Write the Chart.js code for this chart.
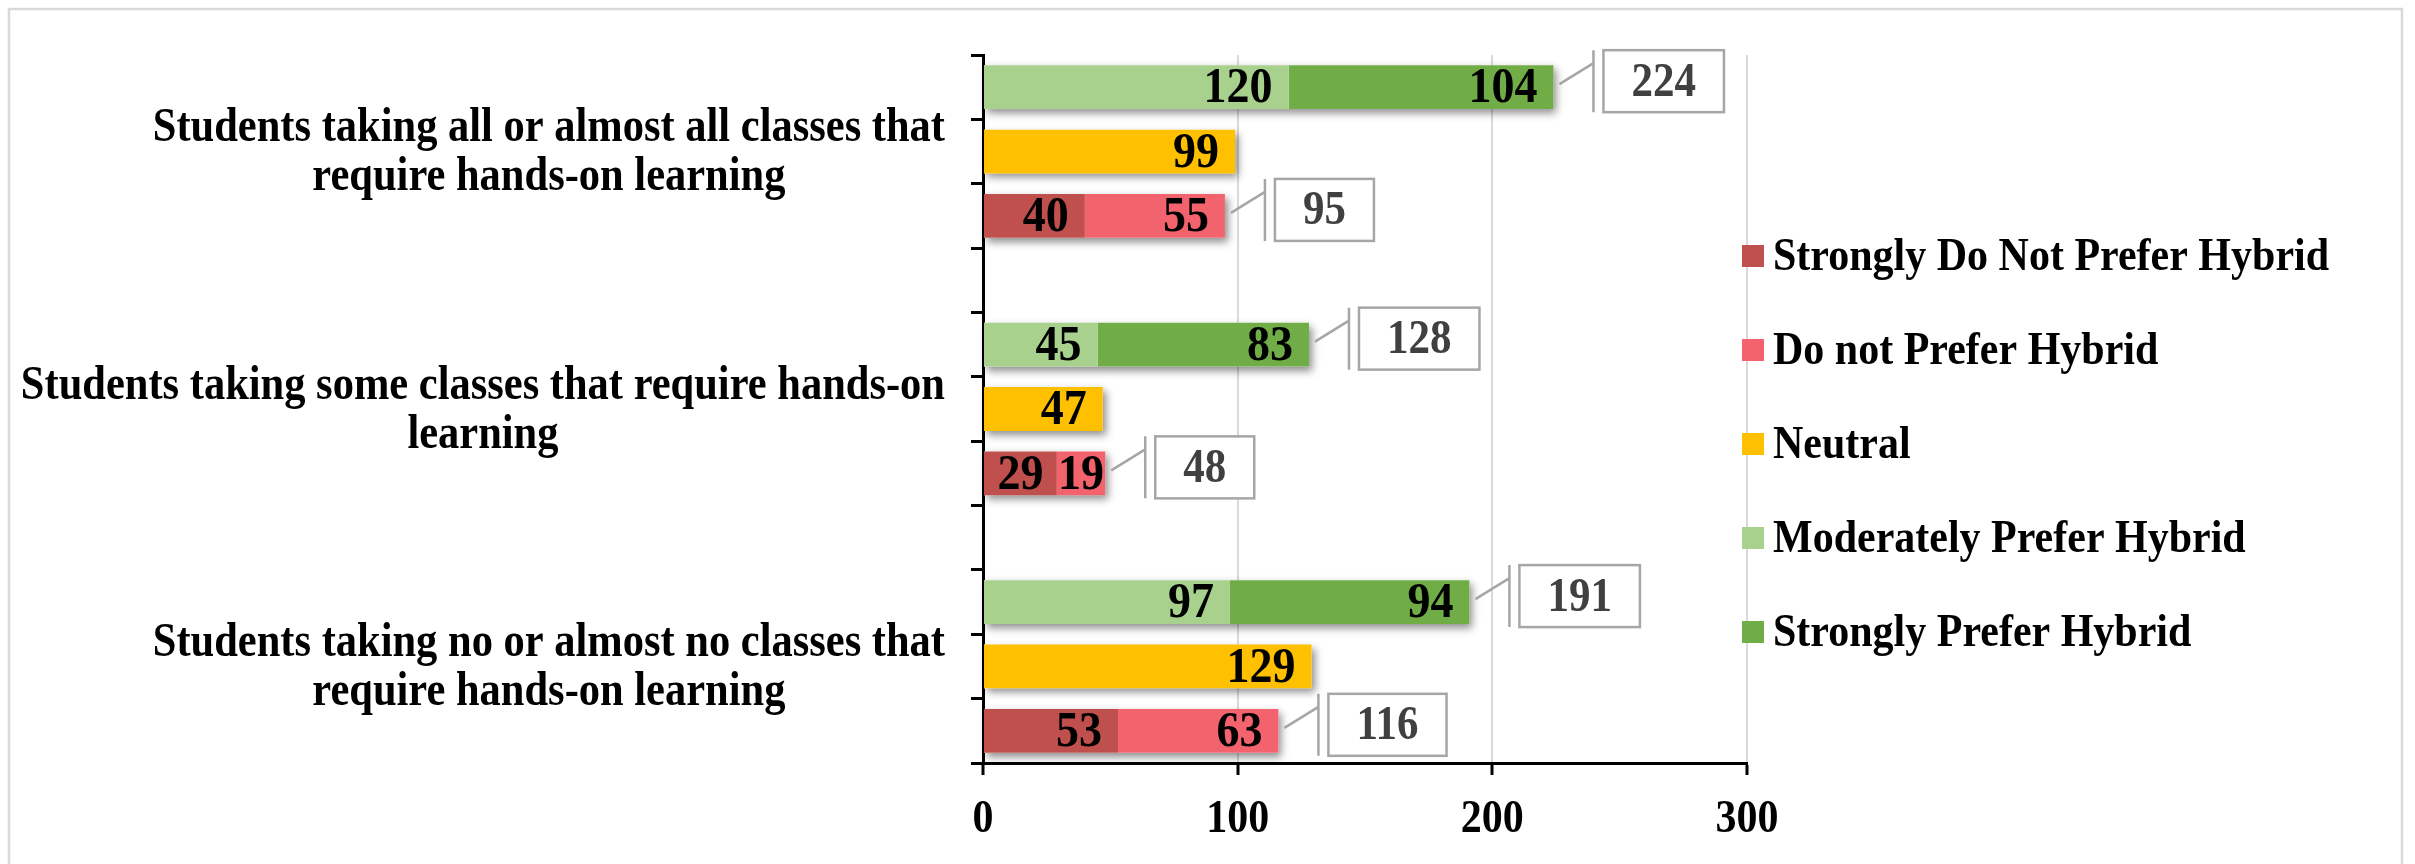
<!DOCTYPE html>
<html lang="en">
  <head>
    <meta charset="utf-8">
    <title>Hybrid preference by hands-on class load</title>
    <script src="https://cdn.jsdelivr.net/npm/chart.js"></script>
    <style>
      html, body {
        margin: 0;
        padding: 0;
        background: #fff;
      }
      #wrap {
        position: relative;
        width: 2415px;
        height: 864px;
      }
    </style>
  </head>
  <body>
    <div id="wrap"><canvas id="chart"></canvas></div>

    <script>
      // Groups, top to bottom
      const groups = [
        ["Students taking all or almost all classes that", "require hands-on learning"],
        ["Students taking some classes that require hands-on", "learning"],
        ["Students taking no or almost no classes that", "require hands-on learning"],
      ];
      const seriesNames = [
        "Strongly Do Not Prefer Hybrid",
        "Do not Prefer Hybrid",
        "Neutral",
        "Moderately Prefer Hybrid",
        "Strongly Prefer Hybrid",
      ];
      const stronglyNot = [40, 29, 53];
      const notPrefer = [55, 19, 63];
      const neutral = [99, 47, 129];
      const moderately = [120, 45, 97];
      const stronglyPrefer = [104, 83, 94];
      const xTicks = [0, 100, 200, 300];

      const COLORS = {
        strongNot: "#C0504D",
        not: "#F2636E",
        neutral: "#FFC000",
        moderate: "#A9D18E",
        strong: "#70AD47",
      };
      const FONT = '"Liberation Serif", "Times New Roman", serif';
      // the source text is a bit taller than it is wide
      const STRETCH = 1.12;

      // every group is three bars (prefer, neutral, not prefer) and an empty spacer row
      const ROW_PREF = 0, ROW_NEUTRAL = 1, ROW_NOT = 2;
      const nRows = groups.length * 4 - 1;
      const rowLabels = Array.from({length: nRows}, (_, i) => "row" + i);
      const spread = (values, slot) => {
        let out = new Array(nRows).fill(null);
        values.forEach((v, g) => { out[g * 4 + slot] = v; });
        return out;
      };
      const dataset = (label, data, color) => ({label, data, backgroundColor: color});

      function tallText(ctx, text, x, y) {
        ctx.save();
        ctx.translate(x, y);
        ctx.scale(1, STRETCH);
        ctx.fillText(text, 0, 0);
        ctx.restore();
      }

      // Drop shadow under each whole stack, drawn before the bars
      const barShadow = {
        id: "barShadow",
        beforeDatasetsDraw(chart) {
          const ctx = chart.ctx;
          let rows = {};
          chart.data.datasets.forEach((ds, i) => {
            chart.getDatasetMeta(i).data.forEach((bar, j) => {
              if (ds.data[j] == null) return;
              let r = rows[j] || (rows[j] = {l: Infinity, r: -Infinity, y: bar.y, h: bar.height});
              r.l = Math.min(r.l, bar.base, bar.x);
              r.r = Math.max(r.r, bar.base, bar.x);
            });
          });
          ctx.save();
          ctx.shadowColor = "rgba(0, 0, 0, 0.45)";
          ctx.shadowBlur = 8;
          ctx.shadowOffsetX = 3;
          ctx.shadowOffsetY = 4;
          ctx.fillStyle = "#fff";
          for (let r of Object.values(rows)) {
            ctx.fillRect(r.l, r.y - r.h / 2, r.r - r.l, r.h);
          }
          ctx.restore();
        }
      };

      // Border round the whole chart
      const frame = {
        id: "frame",
        beforeDraw(chart) {
          const ctx = chart.ctx;
          ctx.save();
          ctx.fillStyle = "#fff";
          ctx.fillRect(0, 0, chart.width, chart.height);
          ctx.strokeStyle = "#D9D9D9";
          ctx.lineWidth = 2.5;
          ctx.strokeRect(9, 9, chart.width - 22, chart.height + 20);
          ctx.restore();
        }
      };

      // Values inside the bars and the boxed totals
      const barLabels = {
        id: "barLabels",
        afterDatasetsDraw(chart) {
          const ctx = chart.ctx;
          ctx.save();
          ctx.font = "bold 46px " + FONT;
          ctx.fillStyle = "#000";
          ctx.textBaseline = "middle";
          chart.data.datasets.forEach((ds, i) => {
            chart.getDatasetMeta(i).data.forEach((bar, j) => {
              const v = ds.data[j];
              if (v == null) return;
              const text = String(v);
              const w = ctx.measureText(text).width;
              const left = Math.min(bar.base, bar.x), right = Math.max(bar.base, bar.x);
              if (w + 32 > right - left) {
                ctx.textAlign = "center";
                tallText(ctx, text, (left + right) / 2, bar.y + 2);
              } else {
                ctx.textAlign = "right";
                tallText(ctx, text, right - 16, bar.y + 2);
              }
            });
          });

          const xs = chart.scales.x, ys = chart.scales.y;
          ctx.font = "bold 43px " + FONT;
          groups.forEach((_, g) => {
            const callouts = [
              [moderately[g] + stronglyPrefer[g], g * 4 + ROW_PREF],
              [stronglyNot[g] + notPrefer[g], g * 4 + ROW_NOT],
            ];
            for (let [total, row] of callouts) {
              const xEnd = xs.getPixelForValue(total);
              const yc = ys.getPixelForValue(row);
              const text = String(total);
              const tw = ctx.measureText(text).width;
              const vx = xEnd + 40;
              const bh = 62, top = yc - 6 - bh / 2;
              const bx = vx + 10, bw = tw + 56;
              ctx.strokeStyle = "#A6A6A6";
              ctx.lineWidth = 2.5;
              ctx.beginPath();
              ctx.moveTo(xEnd + 6, yc - 3);
              ctx.lineTo(vx, top + 13);
              ctx.moveTo(vx, top);
              ctx.lineTo(vx, top + bh);
              ctx.stroke();
              ctx.fillStyle = "#fff";
              ctx.fillRect(bx, top, bw, bh);
              ctx.strokeRect(bx, top, bw, bh);
              ctx.fillStyle = "#404040";
              ctx.textAlign = "center";
              tallText(ctx, text, bx + bw / 2, top + bh / 2 + 2);
            }
          });
          ctx.restore();
        }
      };

      // Group labels (centred lines, block right aligned), x tick labels and the legend on the right
      const sideText = {
        id: "sideText",
        afterDraw(chart) {
          const ctx = chart.ctx;
          const xs = chart.scales.x, ys = chart.scales.y;
          const area = chart.chartArea;
          ctx.save();
          ctx.fillStyle = "#000";
          ctx.textBaseline = "middle";
          ctx.font = "bold 42.5px " + FONT;
          ctx.textAlign = "center";
          groups.forEach((lines, g) => {
            const yc = ys.getPixelForValue(g * 4 + ROW_NEUTRAL);
            const maxW = Math.max(...lines.map(l => ctx.measureText(l).width));
            const cx = area.left - 38 - maxW / 2;
            lines.forEach((l, k) => tallText(ctx, l, cx, yc + 2 + (k - (lines.length - 1) / 2) * 49));
          });

          ctx.font = "bold 42px " + FONT;
          xs.ticks.forEach(t => tallText(ctx, String(t.value), xs.getPixelForValue(t.value), area.bottom + 57));

          ctx.textAlign = "left";
          chart.data.datasets.forEach((ds, i) => {
            const y = area.top + 201 + i * 94;
            const x = area.right - 5;
            ctx.fillStyle = ds.backgroundColor;
            ctx.fillRect(x, y - 11, 22, 22);
            ctx.fillStyle = "#000";
            tallText(ctx, ds.label, x + 31, y + 2);
          });
          ctx.restore();
        }
      };

      Chart.defaults.font.family = FONT;

      new Chart(document.getElementById("chart").getContext("2d"), {
        type: "bar",
        data: {
          labels: rowLabels,
          datasets: [
            dataset(seriesNames[0], spread(stronglyNot, ROW_NOT), COLORS.strongNot),
            dataset(seriesNames[1], spread(notPrefer, ROW_NOT), COLORS.not),
            dataset(seriesNames[2], spread(neutral, ROW_NEUTRAL), COLORS.neutral),
            dataset(seriesNames[3], spread(moderately, ROW_PREF), COLORS.moderate),
            dataset(seriesNames[4], spread(stronglyPrefer, ROW_PREF), COLORS.strong),
          ]
        },
        options: {
          indexAxis: "y",
          responsive: true,
          maintainAspectRatio: false,
          animation: false,
          barPercentage: 0.68,
          categoryPercentage: 1,
          layout: { padding: { left: 971, right: 668, top: 55, bottom: 0 } },
          plugins: {
            legend: { display: false },
            tooltip: { enabled: false }
          },
          scales: {
            x: {
              type: "linear",
              stacked: true,
              min: 0,
              max: 300,
              afterBuildTicks: s => { s.ticks = xTicks.map(v => ({value: v})); },
              afterFit: s => { s.height = 101; },
              grid: { color: "#D9D9D9", lineWidth: 2, tickColor: "#000", tickWidth: 3, tickLength: 12, z: -1 },
              border: { color: "#000", width: 3 },
              ticks: { display: false }
            },
            y: {
              stacked: true,
              grid: { drawOnChartArea: false, offset: true, color: "#000", lineWidth: 3, tickLength: 12 },
              border: { color: "#000", width: 3 },
              ticks: { display: false }
            }
          }
        },
        plugins: [frame, barShadow, barLabels, sideText]
      });
    </script>
  </body>
</html>
